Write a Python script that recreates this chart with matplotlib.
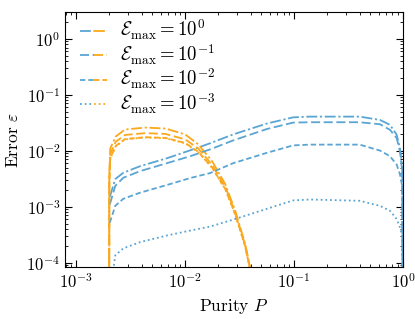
import matplotlib
matplotlib.use("Agg")
import matplotlib.pyplot as plt
from matplotlib.legend_handler import HandlerTuple

plt.rcParams['font.family'] = 'serif'
plt.rcParams['font.serif'] = ['cmr10']
plt.rcParams['mathtext.fontset'] = 'cm'
plt.rcParams['axes.formatter.use_mathtext'] = True

# Legend labels
labels = [r'$\mathcal{E}_{\mathrm{max}} = 10^{0}$',
          r'$\mathcal{E}_{\mathrm{max}} = 10^{-1}$',
          r'$\mathcal{E}_{\mathrm{max}} = 10^{-2}$',
          r'$\mathcal{E}_{\mathrm{max}} = 10^{-3}$']

# Blue curves
P_blue = [0.00203, 0.00228, 0.0027, 0.00386, 0.00679, 0.0111, 0.0169, 0.0275,
          0.0562, 0.098, 0.14, 0.40, 0.615, 0.76, 0.875, 0.938, 0.985, 1.0]
blue_0 = [1.5e-3, 3.13e-3, 4.05e-3, 5.32e-3, 7.36e-3, 1.02e-2, 1.36e-2, 1.96e-2,
          3.07e-2, 3.96e-2, 4.08e-2, 4.08e-2, 3.56e-2, 2.91e-2, 1.94e-2, 1.12e-2, 5.3e-3, 1e-6]
blue_1 = [1.1e-3, 2.36e-3, 3.30e-3, 4.34e-3, 6.01e-3, 8.0e-3, 1.06e-2, 1.53e-2,
          2.45e-2, 3.19e-2, 3.24e-2, 3.24e-2, 2.98e-2, 2.37e-2, 1.69e-2, 9.8e-3, 4.3e-3, 1e-6]
blue_2 = [5.2e-4, 1.04e-3, 1.39e-3, 1.79e-3, 2.45e-3, 3.26e-3, 4.0e-3, 6.0e-3,
          9.2e-3, 1.25e-2, 1.29e-2, 1.29e-2, 1.01e-2, 8.0e-3, 5.7e-3, 3.79e-3, 2.36e-3, 1e-6]
P_blue3 = [0.00213, 0.00228, 0.0027, 0.00386, 0.00679, 0.0111, 0.0169, 0.0275,
           0.0562, 0.098, 0.14, 0.40, 0.615, 0.76, 0.875, 0.938, 0.985, 1.0]
blue_3 = [5e-5, 1.36e-4, 1.81e-4, 2.34e-4, 3.07e-4, 3.76e-4, 4.43e-4, 5.89e-4,
          9.2e-4, 1.30e-3, 1.35e-3, 1.28e-3, 1.04e-3, 8.5e-4, 6.06e-4, 4.3e-4, 2.94e-4, 1e-6]

# Orange curves
P_orange = [0.00200, 0.00201, 0.00205, 0.0023, 0.0028, 0.0043, 0.0066, 0.010,
            0.0132, 0.0177, 0.0233, 0.0288, 0.0355, 0.0394]
orange_0 = [1e-6, 4e-3, 1.1e-2, 1.8e-2, 2.4e-2, 2.6e-2, 2.5e-2, 1.96e-2,
            1.3e-2, 6.5e-3, 2.55e-3, 8.5e-4, 2.2e-4, 8.3e-5]
orange_1 = [1e-6, 3.2e-3, 8.8e-3, 1.45e-2, 1.92e-2, 2.07e-2, 2.0e-2, 1.6e-2,
            1.1e-2, 5.6e-3, 2.3e-3, 7.9e-4, 2.1e-4, 8.0e-5]
orange_2 = [1e-6, 2.7e-3, 7.4e-3, 1.22e-2, 1.62e-2, 1.75e-2, 1.7e-2, 1.38e-2,
            9.6e-3, 5.0e-3, 2.1e-3, 7.4e-4, 2.0e-4, 7.8e-5]
orange_3 = [1e-6, 2.65e-3, 7.3e-3, 1.2e-2, 1.6e-2, 1.73e-2, 1.68e-2, 1.36e-2,
            9.5e-3, 4.95e-3, 2.08e-3, 7.3e-4, 1.98e-4, 7.7e-5]

blue = '#5aa5d3'
orange = '#fba81c'
styles = [(0, (6, 1.5, 1.2, 1.5)), (0, (5, 2)), (0, (3, 1.6)), (0, (1, 1.6))]

fig, ax = plt.subplots(figsize=(4.15, 3.19), dpi=100)
fig.subplots_adjust(left=0.157, right=0.971, top=0.962, bottom=0.162)

blues = [(P_blue, blue_0), (P_blue, blue_1), (P_blue, blue_2), (P_blue3, blue_3)]
oranges = [orange_0, orange_1, orange_2, orange_3]

handles = []
for i in range(4):
    lb, = ax.plot(blues[i][0], blues[i][1], color=blue, ls=styles[i], lw=1.3)
    lo, = ax.plot(P_orange, oranges[i], color=orange, ls=styles[i], lw=1.3)
    handles.append((lb, lo))

ax.set_xscale('log')
ax.set_yscale('log')
ax.set_xlim(7.9e-4, 1.0)
ax.set_ylim(8.3e-5, 3.0)
ax.set_xlabel(r'Purity $P$', fontsize=12.5)
ax.set_ylabel(r'Error $\varepsilon$', fontsize=12.5)
ax.tick_params(which='both', direction='in', top=True, right=True, labelsize=12)
ax.tick_params(which='major', length=5)
ax.tick_params(which='minor', length=2.5)

ax.legend(handles, labels, handler_map={tuple: HandlerTuple(ndivide=None, pad=0)},
          loc='upper left', bbox_to_anchor=(0.0, 1.035), frameon=False,
          fontsize=13.5, handlelength=1.45, handletextpad=0.65,
          labelspacing=0.02, borderaxespad=0.4)

fig.savefig('out.png', dpi=100)
